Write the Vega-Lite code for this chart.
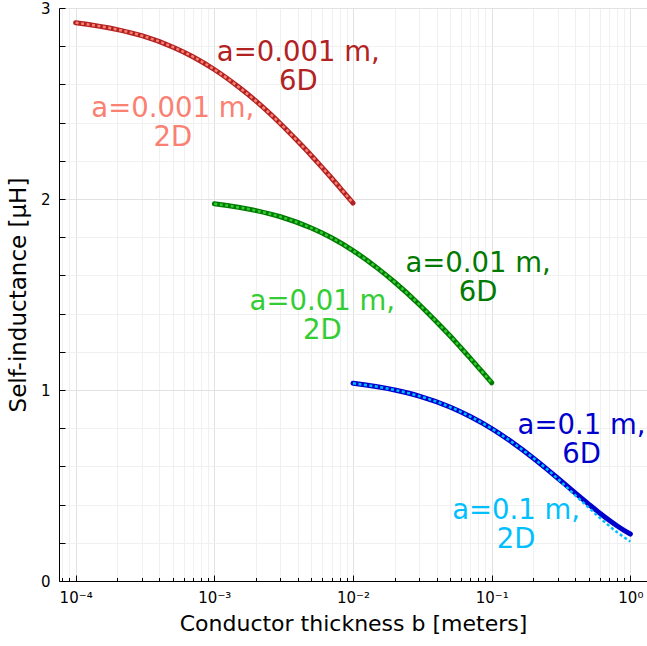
{
  "$schema": "https://vega.github.io/schema/vega-lite/v6.json",
  "width": 588,
  "height": 573,
  "autosize": "none",
  "padding": {"left": 59, "top": 8, "right": 0, "bottom": 65},
  "background": "white",
  "config": {
    "view": {"stroke": null},
    "font": "DejaVu Sans",
    "axis": {"labelFont": "DejaVu Sans", "titleFont": "DejaVu Sans", "titleFontWeight": "normal", "labelColor": "black", "titleColor": "black", "domainColor": "black", "tickColor": "black", "domainWidth": 1, "tickWidth": 1}
  },
  "datasets": {
    "curves": [
      {"b": 0.0001, "L": 2.923, "series": "r6"}, {"b": 0.0002, "L": 2.887, "series": "r6"}, {"b": 0.0003, "L": 2.855, "series": "r6"}, {"b": 0.0005, "L": 2.796, "series": "r6"}, {"b": 0.0007, "L": 2.745, "series": "r6"}, {"b": 0.001, "L": 2.678, "series": "r6"}, {"b": 0.0015, "L": 2.586, "series": "r6"}, {"b": 0.002, "L": 2.512, "series": "r6"}, {"b": 0.003, "L": 2.394, "series": "r6"}, {"b": 0.004, "L": 2.302, "series": "r6"}, {"b": 0.005, "L": 2.228, "series": "r6"}, {"b": 0.006, "L": 2.164, "series": "r6"}, {"b": 0.007, "L": 2.110, "series": "r6"}, {"b": 0.0085, "L": 2.039, "series": "r6"}, {"b": 0.01, "L": 1.979, "series": "r6"},
      {"b": 0.0001, "L": 2.923, "series": "r2"}, {"b": 0.0002, "L": 2.887, "series": "r2"}, {"b": 0.0003, "L": 2.855, "series": "r2"}, {"b": 0.0005, "L": 2.796, "series": "r2"}, {"b": 0.0007, "L": 2.745, "series": "r2"}, {"b": 0.001, "L": 2.678, "series": "r2"}, {"b": 0.0015, "L": 2.586, "series": "r2"}, {"b": 0.002, "L": 2.512, "series": "r2"}, {"b": 0.003, "L": 2.394, "series": "r2"}, {"b": 0.004, "L": 2.302, "series": "r2"}, {"b": 0.005, "L": 2.228, "series": "r2"}, {"b": 0.006, "L": 2.164, "series": "r2"}, {"b": 0.007, "L": 2.110, "series": "r2"}, {"b": 0.0085, "L": 2.039, "series": "r2"}, {"b": 0.01, "L": 1.979, "series": "r2"},
      {"b": 0.001, "L": 1.975, "series": "g6"}, {"b": 0.002, "L": 1.939, "series": "g6"}, {"b": 0.003, "L": 1.907, "series": "g6"}, {"b": 0.005, "L": 1.848, "series": "g6"}, {"b": 0.007, "L": 1.797, "series": "g6"}, {"b": 0.01, "L": 1.730, "series": "g6"}, {"b": 0.015, "L": 1.638, "series": "g6"}, {"b": 0.02, "L": 1.564, "series": "g6"}, {"b": 0.03, "L": 1.448, "series": "g6"}, {"b": 0.04, "L": 1.357, "series": "g6"}, {"b": 0.05, "L": 1.284, "series": "g6"}, {"b": 0.06, "L": 1.221, "series": "g6"}, {"b": 0.07, "L": 1.167, "series": "g6"}, {"b": 0.085, "L": 1.097, "series": "g6"}, {"b": 0.1, "L": 1.038, "series": "g6"},
      {"b": 0.001, "L": 1.975, "series": "g2"}, {"b": 0.002, "L": 1.939, "series": "g2"}, {"b": 0.003, "L": 1.907, "series": "g2"}, {"b": 0.005, "L": 1.848, "series": "g2"}, {"b": 0.007, "L": 1.797, "series": "g2"}, {"b": 0.01, "L": 1.730, "series": "g2"}, {"b": 0.015, "L": 1.638, "series": "g2"}, {"b": 0.02, "L": 1.564, "series": "g2"}, {"b": 0.03, "L": 1.448, "series": "g2"}, {"b": 0.04, "L": 1.357, "series": "g2"}, {"b": 0.05, "L": 1.284, "series": "g2"}, {"b": 0.06, "L": 1.221, "series": "g2"}, {"b": 0.07, "L": 1.167, "series": "g2"}, {"b": 0.085, "L": 1.097, "series": "g2"}, {"b": 0.1, "L": 1.038, "series": "g2"},
      {"b": 0.01, "L": 1.035, "series": "b6"}, {"b": 0.02, "L": 1.000, "series": "b6"}, {"b": 0.03, "L": 0.968, "series": "b6"}, {"b": 0.05, "L": 0.911, "series": "b6"}, {"b": 0.07, "L": 0.861, "series": "b6"}, {"b": 0.1, "L": 0.798, "series": "b6"}, {"b": 0.14, "L": 0.727, "series": "b6"}, {"b": 0.2, "L": 0.643, "series": "b6"}, {"b": 0.25, "L": 0.586, "series": "b6"}, {"b": 0.3, "L": 0.538, "series": "b6"}, {"b": 0.4, "L": 0.461, "series": "b6"}, {"b": 0.5, "L": 0.4025, "series": "b6"}, {"b": 0.6, "L": 0.356, "series": "b6"}, {"b": 0.7, "L": 0.319, "series": "b6"}, {"b": 0.8, "L": 0.289, "series": "b6"}, {"b": 0.9, "L": 0.265, "series": "b6"}, {"b": 1.0, "L": 0.246, "series": "b6"},
      {"b": 0.01, "L": 1.035, "series": "b2"}, {"b": 0.02, "L": 1.000, "series": "b2"}, {"b": 0.03, "L": 0.968, "series": "b2"}, {"b": 0.05, "L": 0.911, "series": "b2"}, {"b": 0.07, "L": 0.861, "series": "b2"}, {"b": 0.1, "L": 0.798, "series": "b2"}, {"b": 0.14, "L": 0.727, "series": "b2"}, {"b": 0.2, "L": 0.643, "series": "b2"}, {"b": 0.25, "L": 0.586, "series": "b2"}, {"b": 0.3, "L": 0.535, "series": "b2"}, {"b": 0.4, "L": 0.449, "series": "b2"}, {"b": 0.5, "L": 0.3845, "series": "b2"}, {"b": 0.6, "L": 0.332, "series": "b2"}, {"b": 0.7, "L": 0.290, "series": "b2"}, {"b": 0.8, "L": 0.256, "series": "b2"}, {"b": 0.9, "L": 0.229, "series": "b2"}, {"b": 1.0, "L": 0.207, "series": "b2"}
    ],
    "labels": [
      {"b": 0.00403, "L": 2.762, "series": "r6", "label": "a=0.001 m,\n6D"},
      {"b": 0.000502, "L": 2.469, "series": "r2", "label": "a=0.001 m,\n2D"},
      {"b": 0.0798, "L": 1.662, "series": "g6", "label": "a=0.01 m,\n6D"},
      {"b": 0.0060, "L": 1.463, "series": "g2", "label": "a=0.01 m,\n2D"},
      {"b": 0.4446, "L": 0.809, "series": "b6", "label": "a=0.1 m,\n6D"},
      {"b": 0.150, "L": 0.364, "series": "b2", "label": "a=0.1 m,\n2D"}
    ]
  },
  "encoding": {
    "x": {
      "field": "b", "type": "quantitative",
      "scale": {"type": "log", "domain": [0.00007586, 1.318], "nice": false},
      "axis": {
        "title": "Conductor thickness b [meters]",
        "titleFontSize": 22,
        "titlePadding": 6,
        "labelFontSize": 15,
        "labelPadding": 15,
        "labelOverlap": false,
        "labelFlush": false,
        "values": [0.00008, 0.00009, 0.0001, 0.0002, 0.0003, 0.0004, 0.0005, 0.0006, 0.0007, 0.0008, 0.0009, 0.001, 0.002, 0.003, 0.004, 0.005, 0.006, 0.007, 0.008, 0.009, 0.01, 0.02, 0.03, 0.04, 0.05, 0.06, 0.07, 0.08, 0.09, 0.1, 0.2, 0.3, 0.4, 0.5, 0.6, 0.7, 0.8, 0.9, 1],
        "labelExpr": "abs(log(datum.value)/LN10 - round(log(datum.value)/LN10)) < 0.001 ? (round(log(datum.value)/LN10) == 0 ? '10⁰' : round(log(datum.value)/LN10) == -1 ? '10⁻¹' : round(log(datum.value)/LN10) == -2 ? '10⁻²' : round(log(datum.value)/LN10) == -3 ? '10⁻³' : '10⁻⁴') : ''",
        "grid": true,
        "gridColor": {"condition": {"test": "abs(log(datum.value)/LN10 - round(log(datum.value)/LN10)) < 0.001", "value": "#e2e2e2"}, "value": "#f0f0f0"},
        "gridWidth": 1,
        "tickSize": {"condition": {"test": "abs(log(datum.value)/LN10 - round(log(datum.value)/LN10)) < 0.001", "value": -6}, "value": -3.5}
      }
    },
    "y": {
      "field": "L", "type": "quantitative",
      "scale": {"domain": [0, 3], "nice": false, "zero": false},
      "axis": {
        "title": "Self-inductance [μH]",
        "titleFontSize": 23,
        "titlePadding": 10,
        "labelFontSize": 15,
        "labelPadding": 15,
        "labelOverlap": false,
        "labelFlush": false,
        "values": [0, 0.2, 0.4, 0.6, 0.8, 1, 1.2, 1.4, 1.6, 1.8, 2, 2.2, 2.4, 2.6, 2.8, 3],
        "labelExpr": "abs(datum.value - round(datum.value)) < 0.000001 ? toString(round(datum.value)) : ''",
        "grid": true,
        "gridColor": {"condition": {"test": "abs(datum.value - round(datum.value)) < 0.000001", "value": "#e2e2e2"}, "value": "#f0f0f0"},
        "gridWidth": 1,
        "tickSize": -6
      }
    },
    "color": {
      "field": "series", "type": "nominal", "legend": null,
      "scale": {"domain": ["r6", "r2", "g6", "g2", "b6", "b2"], "range": ["#B22222", "#FA8072", "#007A00", "#32CD32", "#0000CD", "#00BFFF"]}
    }
  },
  "layer": [
    {
      "data": {"name": "curves"},
      "transform": [{"filter": "indexof(['r6','g6','b6'], datum.series) >= 0"}],
      "mark": {"type": "line", "strokeWidth": 5, "strokeCap": "round", "strokeJoin": "round", "interpolate": "monotone"},
      "encoding": {"detail": {"field": "series"}}
    },
    {
      "data": {"name": "curves"},
      "transform": [{"filter": "indexof(['r2','g2','b2'], datum.series) >= 0"}],
      "mark": {"type": "line", "strokeWidth": 2.5, "strokeDash": [3, 2.5], "strokeCap": "butt", "interpolate": "monotone"},
      "encoding": {"detail": {"field": "series"}}
    },
    {
      "data": {"name": "labels"},
      "mark": {"type": "text", "fontSize": 27.5, "font": "DejaVu Sans", "align": "center", "baseline": "middle", "lineBreak": "\n", "lineHeight": 29},
      "encoding": {"text": {"field": "label"}}
    }
  ]
}
